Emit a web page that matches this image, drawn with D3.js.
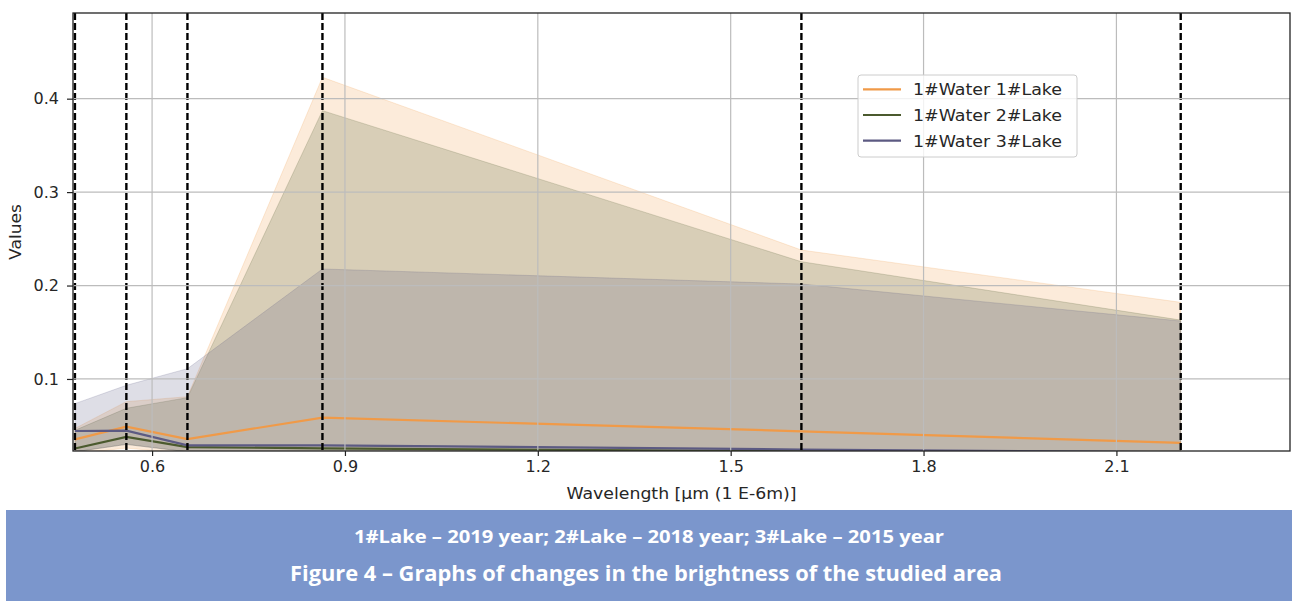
<!DOCTYPE html>
<html>
<head>
<meta charset="utf-8">
<script src="https://cdn.jsdelivr.net/npm/d3@7"></script>
<style>
  html, body { margin: 0; padding: 0; background: #ffffff; }
  svg { display: block; }
  .tick text { font-family: "DejaVu Sans", sans-serif; font-size: 16px; fill: #262626; }
</style>
</head>
<body>
<svg id="chart" width="1292" height="601"></svg>
<script>
// Landsat band centres (µm)
const wavelengths = [0.48, 0.56, 0.655, 0.865, 1.61, 2.2];

// Mean reflectance per lake
const lake1Mean = [0.0354, 0.049, 0.0357, 0.0586, 0.044, 0.0317];
const lake2Mean = [0.0256, 0.0379, 0.0271, 0.0257, 0.0225, 0.0205];
const lake3Mean = [0.0443, 0.0447, 0.029, 0.029, 0.0245, 0.0215];

// Spread envelopes per lake
const lake1Upper = [0.047, 0.0757, 0.081, 0.4229, 0.238, 0.182];
const lake1Lower = [0.02, 0.026, 0.02, 0.018, 0.015, 0.012];
const lake2Upper = [0.045, 0.0686, 0.080, 0.3872, 0.2255, 0.163];
const lake2Lower = [0.022, 0.03, 0.022, 0.018, 0.015, 0.012];
const lake3Upper = [0.0736, 0.0932, 0.111, 0.2177, 0.2016, 0.162];
const lake3Lower = [0.022, 0.03, 0.022, 0.02, 0.015, 0.012];

const seriesNames = ["1#Water 1#Lake", "1#Water 2#Lake", "1#Water 3#Lake"];
const seriesColors = ["#f09a48", "#4b5a2e", "#5c5a82"];

const xTicks = [0.6, 0.9, 1.2, 1.5, 1.8, 2.1];
const yTicks = [0.1, 0.2, 0.3, 0.4];

const captionLine1 = "1#Lake – 2019 year; 2#Lake – 2018 year; 3#Lake – 2015 year";
const captionLine2 = "Figure 4 – Graphs of changes in the brightness of the studied area";

const svg = d3.select("#chart");
const plot = { left: 73, right: 1290, top: 13, bottom: 451 };

const x = d3.scaleLinear().domain([0.477, 2.37]).range([plot.left, plot.right]);
const y = d3.scaleLinear().domain([0.0229, 0.4917]).range([plot.bottom, plot.top]);

svg.append("defs").append("clipPath").attr("id", "plotClip")
  .append("rect")
  .attr("x", plot.left).attr("y", plot.top)
  .attr("width", plot.right - plot.left).attr("height", plot.bottom - plot.top);

const series = [
  { name: seriesNames[0], color: seriesColors[0], mean: lake1Mean, lo: lake1Lower, hi: lake1Upper },
  { name: seriesNames[1], color: seriesColors[1], mean: lake2Mean, lo: lake2Lower, hi: lake2Upper },
  { name: seriesNames[2], color: seriesColors[2], mean: lake3Mean, lo: lake3Lower, hi: lake3Upper }
];

const body = svg.append("g").attr("clip-path", "url(#plotClip)");

// Envelopes
const area = d3.area()
  .x(d => x(d.w)).y0(d => y(d.lo)).y1(d => y(d.hi));
series.forEach(s => {
  const pts = wavelengths.map((w, i) => ({ w, lo: s.lo[i], hi: s.hi[i] }));
  body.append("path").datum(pts)
    .attr("d", area)
    .attr("fill", s.color).attr("fill-opacity", 0.2)
    .attr("stroke", s.color).attr("stroke-opacity", 0.2).attr("stroke-width", 1);
});

// Grid
const grid = svg.append("g");
xTicks.forEach(t => grid.append("line")
  .attr("x1", x(t)).attr("x2", x(t)).attr("y1", plot.top).attr("y2", plot.bottom)
  .attr("stroke", "#bcbcbc").attr("stroke-width", 1.2));
yTicks.forEach(t => grid.append("line")
  .attr("x1", plot.left).attr("x2", plot.right).attr("y1", y(t)).attr("y2", y(t))
  .attr("stroke", "#bcbcbc").attr("stroke-width", 1.2));

// Mean lines
const line = d3.line().x(d => x(d.w)).y(d => y(d.v));
series.forEach(s => {
  const pts = wavelengths.map((w, i) => ({ w, v: s.mean[i] }));
  body.append("path").datum(pts)
    .attr("d", line)
    .attr("fill", "none").attr("stroke", s.color).attr("stroke-width", 2.2);
});

// Band markers
wavelengths.forEach(w => body.append("line")
  .attr("x1", x(w)).attr("x2", x(w)).attr("y1", plot.top).attr("y2", plot.bottom)
  .attr("stroke", "#000").attr("stroke-width", 2.4).attr("stroke-dasharray", "7,3"));

// Axes
const xAxis = svg.append("g").attr("transform", `translate(0,${plot.bottom})`)
  .call(d3.axisBottom(x).tickValues(xTicks).tickFormat(d3.format(".1f")).tickSize(5).tickPadding(5).tickSizeOuter(0));
const yAxis = svg.append("g").attr("transform", `translate(${plot.left},0)`)
  .call(d3.axisLeft(y).tickValues(yTicks).tickFormat(d3.format(".1f")).tickSize(6).tickPadding(8).tickSizeOuter(0));
[xAxis, yAxis].forEach(a => {
  a.select(".domain").remove();
  a.selectAll(".tick line").attr("stroke", "#222").attr("stroke-width", 1.2);
});

// Frame
svg.append("rect")
  .attr("x", plot.left).attr("y", plot.top)
  .attr("width", plot.right - plot.left).attr("height", plot.bottom - plot.top)
  .attr("fill", "none").attr("stroke", "#222").attr("stroke-width", 1.3);

// Axis titles
svg.append("text")
  .attr("x", (plot.left + plot.right) / 2).attr("y", 499)
  .attr("text-anchor", "middle")
  .attr("font-family", "DejaVu Sans, sans-serif").attr("font-size", 16)
  .attr("fill", "#262626")
  .attr("textLength", 230).attr("lengthAdjust", "spacingAndGlyphs")
  .text("Wavelength [µm (1 E-6m)]");
svg.append("text")
  .attr("transform", `translate(21,${(plot.top + plot.bottom) / 2}) rotate(-90)`)
  .attr("text-anchor", "middle")
  .attr("font-family", "DejaVu Sans, sans-serif").attr("font-size", 16)
  .attr("fill", "#262626")
  .attr("textLength", 56).attr("lengthAdjust", "spacingAndGlyphs")
  .text("Values");

// Legend
const legend = svg.append("g");
legend.append("rect")
  .attr("x", 858).attr("y", 75).attr("width", 219).attr("height", 82)
  .attr("rx", 3).attr("fill", "#ffffff").attr("fill-opacity", 0.8)
  .attr("stroke", "#cccccc").attr("stroke-width", 1);
series.forEach((s, i) => {
  const cy = 89.3 + i * 25.7;
  legend.append("line")
    .attr("x1", 863).attr("x2", 901).attr("y1", cy).attr("y2", cy)
    .attr("stroke", s.color).attr("stroke-width", 2.2);
  legend.append("text")
    .attr("x", 913).attr("y", cy + 6)
    .attr("font-family", "DejaVu Sans, sans-serif").attr("font-size", 16)
    .attr("fill", "#262626")
    .attr("textLength", 149).attr("lengthAdjust", "spacingAndGlyphs")
    .text(s.name);
});

// Caption panel
svg.append("rect")
  .attr("x", 6).attr("y", 510).attr("width", 1286).attr("height", 91)
  .attr("fill", "#7b96cc");
svg.append("text")
  .attr("x", 649).attr("y", 543).attr("text-anchor", "middle")
  .attr("font-family", "Open Sans, sans-serif").attr("font-weight", "bold").attr("font-size", 18)
  .attr("fill", "#ffffff")
  .attr("textLength", 590).attr("lengthAdjust", "spacingAndGlyphs")
  .text(captionLine1);
svg.append("text")
  .attr("x", 646).attr("y", 581).attr("text-anchor", "middle")
  .attr("font-family", "Open Sans, sans-serif").attr("font-weight", "bold").attr("font-size", 20.5)
  .attr("fill", "#ffffff")
  .attr("textLength", 712).attr("lengthAdjust", "spacingAndGlyphs")
  .text(captionLine2);
</script>
</body>
</html>
